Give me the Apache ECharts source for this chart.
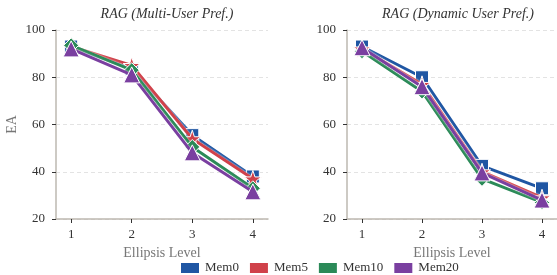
<!DOCTYPE html>
<html>
<head>
<meta charset="utf-8">
<script src="https://cdn.jsdelivr.net/npm/echarts@6/dist/echarts.min.js"></script>
<style>
  html, body { margin: 0; padding: 0; background: #fff; }
  #chart { width: 557px; height: 275px; }
</style>
</head>
<body>
<div id="chart"></div>
<script>
var levels = [1, 2, 3, 4];
var seriesNames = ['Mem0', 'Mem5', 'Mem10', 'Mem20'];
var colors = ['#1f56a3', '#d0414a', '#2b8a58', '#7a3fa0'];

// left panel: RAG (Multi-User Pref.)
var multiMem0 = [93, 83.5, 55.5, 38];
var multiMem5 = [93, 85, 54, 37];
var multiMem10 = [93.5, 83, 50.5, 33];
var multiMem20 = [92, 81, 48, 31.5];

// right panel: RAG (Dynamic User Pref.)
var dynMem0 = [93, 80, 42.5, 33];
var dynMem5 = [92, 77, 40, 29];
var dynMem10 = [91, 74, 37, 27];
var dynMem20 = [92.5, 76, 39.5, 28];

var yTicks = [20, 40, 60, 80, 100];

var starPath = 'path://M50,0 L61.8,35.1 L98.1,35.1 L68.8,56.8 L79.4,90.5 L50,70 L20.6,90.5 L31.2,56.8 L1.9,35.1 L38.2,35.1 Z';
var symbols = ['rect', starPath, 'diamond', 'triangle'];
var sizes = [13, 17, 15, 16];

var font = 'Liberation Serif';
var axisColor = '#bdb8b0';

function pairs(vals) {
    return vals.map(function (v, i) { return [levels[i], v]; });
}

function xAxisCfg(idx) {
    return {
        type: 'value', gridIndex: idx, min: 0.75, max: 4.25,
        name: 'Ellipsis Level', nameLocation: 'middle', nameGap: 27,
        nameTextStyle: { color: '#777', fontFamily: font, fontSize: 14 },
        axisLine: { lineStyle: { color: axisColor, width: 1.5 } },
        axisTick: { show: true, length: 4, lineStyle: { color: '#333' }, customValues: levels },
        axisLabel: { color: '#333', fontFamily: font, fontSize: 13, margin: 9, customValues: levels,
            formatter: function (v) { return String(v); } },
        splitLine: { show: false }
    };
}

function yAxisCfg(idx, withName) {
    return {
        type: 'value', gridIndex: idx, min: yTicks[0], max: yTicks[yTicks.length - 1], interval: 20,
        name: withName ? 'EA' : '', nameLocation: 'middle', nameGap: 37,
        nameTextStyle: { color: '#777', fontFamily: font, fontSize: 14 },
        axisLine: { show: true, lineStyle: { color: axisColor, width: 1.5 } },
        axisTick: { show: true, length: 4, lineStyle: { color: '#333' } },
        axisLabel: { color: '#333', fontFamily: font, fontSize: 13, margin: 11 },
        splitLine: { show: true, lineStyle: { color: '#e3e3e3', type: [4, 3] } }
    };
}

function makeSeries(idx, data) {
    var out = [];
    data.forEach(function (vals, i) {
        out.push({
            name: seriesNames[i], type: 'line',
            xAxisIndex: idx, yAxisIndex: idx,
            data: pairs(vals),
            symbol: symbols[i], symbolSize: sizes[i],
            color: colors[i],
            lineStyle: { width: 3, color: colors[i], shadowColor: 'rgba(255,255,255,0.9)', shadowBlur: 2 },
            itemStyle: { color: colors[i], borderColor: '#fff', borderWidth: 1 },
            z: 2 + i,
            animation: false
        });
    });
    return out;
}

var dom = document.getElementById('chart');
var myChart = echarts.init(dom);

var option = {
    animation: false,
    title: [
        { text: 'RAG (Multi-User Pref.)', left: 162, top: 2, textAlign: 'center',
          textStyle: { fontFamily: font, fontStyle: 'italic', fontWeight: 'normal', fontSize: 14, color: '#333' } },
        { text: 'RAG (Dynamic User Pref.)', left: 453, top: 2, textAlign: 'center',
          textStyle: { fontFamily: font, fontStyle: 'italic', fontWeight: 'normal', fontSize: 14, color: '#333' } }
    ],
    legend: {
        top: 256, left: 174,
        itemWidth: 20, itemHeight: 12, itemGap: 9,
        icon: 'rect',
        textStyle: { fontFamily: font, fontSize: 13, color: '#333' },
        data: seriesNames.map(function (n) { return { name: n, icon: 'rect' }; })
    },
    grid: [
        { left: 56, right: 289, top: 30, bottom: 56 },
        { left: 347, right: -2, top: 30, bottom: 56 }
    ],
    xAxis: [xAxisCfg(0), xAxisCfg(1)],
    yAxis: [yAxisCfg(0, true), yAxisCfg(1, false)],
    series: makeSeries(0, [multiMem0, multiMem5, multiMem10, multiMem20])
        .concat(makeSeries(1, [dynMem0, dynMem5, dynMem10, dynMem20]))
};

myChart.setOption(option, true);

window.addEventListener('resize', function () {
    myChart.resize();
});
</script>
</body>
</html>
